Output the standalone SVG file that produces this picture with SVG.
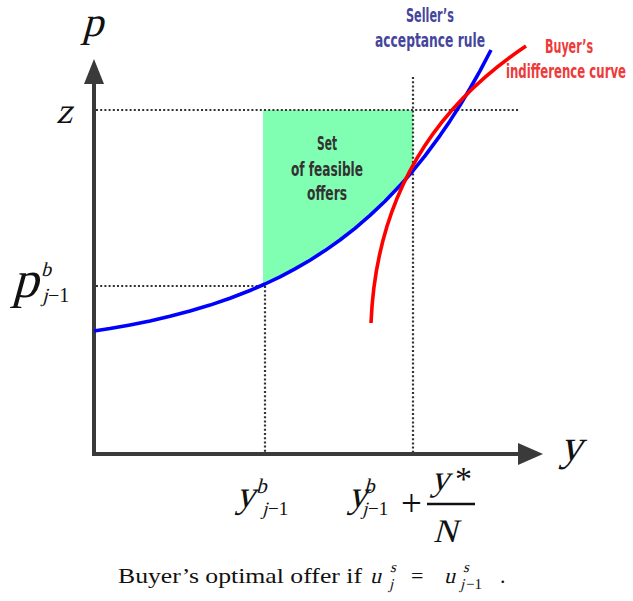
<svg xmlns="http://www.w3.org/2000/svg" width="633" height="601" viewBox="0 0 633 601">
<style>
.axis{stroke:#3a3a3a;stroke-width:4;fill:none}
.head{fill:#3a3a3a}
.dot{stroke:#333;stroke-width:2.2;stroke-dasharray:2 2.2;fill:none}
.curve{fill:none;stroke-width:3.6;stroke-linecap:butt;stroke-linejoin:round}
.note{font-family:"DejaVu Sans Condensed","DejaVu Sans",sans-serif;font-weight:bold;font-size:19px}
.m{font-family:"Liberation Serif","Times New Roman",serif;font-style:normal;fill:#111}
.r{font-family:"Liberation Serif","Times New Roman",serif;font-style:normal;fill:#111}
</style>
<rect width="633" height="601" fill="#fff"/>
<g id="feasible-region">
<path fill="#80FFB2" d="M263,110 L413,110 L413,170.7 L400,185.6 L385,201.3 L370,215.4 L355,228.3 L340,240 L325,250.6 L310,260.2 L295,268.9 L280,276.8 L265,284 L263,284.8 Z"/>
</g>
<g id="guides">
<line class="dot" x1="96" y1="110" x2="518" y2="110"/>
<line class="dot" x1="96" y1="286" x2="264" y2="286"/>
<line class="dot" x1="265" y1="286" x2="265" y2="452"/>
<line class="dot" x1="413" y1="77" x2="413" y2="452"/>
</g>
<g id="axes">
<polyline class="axis" points="94,82 94,454 520,454"/>
<polygon class="head" points="94,59 84,84 104,84"/>
<polygon class="head" points="543,454 518,443 518,465"/>
</g>
<g id="connectors">
<polyline id="seller-rule" class="curve" stroke="#0000FF" points="94,331 110,328.5 130,324.9 150,320.9 170,316.3 190,311 210,305.1 230,298.3 250,290.5 265,284 280,276.8 295,268.9 310,260.2 325,250.6 340,240 355,228.3 370,215.4 385,201.3 400,185.6 413,170.7 425,155.9 440,135.6 450,120.9 460,105.3 470,88.5 480,70.8 491,50"/>
<path id="buyer-curve" class="curve" stroke="#FF0000" d="M371,323 C376,200 430,110 526,46"/>
</g>
<g id="seller-label">
<text class="note" fill="#45459C" x="406" y="21.5" textLength="48" lengthAdjust="spacingAndGlyphs">Seller’s</text>
<text class="note" fill="#45459C" x="375" y="47" textLength="110" lengthAdjust="spacingAndGlyphs">acceptance rule</text>
</g>
<g id="buyer-label">
<text class="note" fill="#EE3A3A" x="545" y="53" textLength="48" lengthAdjust="spacingAndGlyphs">Buyer’s</text>
<text class="note" fill="#EE3A3A" transform="translate(506,78) scale(0.69,1)" textLength="174" lengthAdjust="spacingAndGlyphs">indifference curve</text>
</g>
<g id="region-label">
<text class="note" fill="#333" x="317" y="150" textLength="20" lengthAdjust="spacingAndGlyphs">Set</text>
<text class="note" fill="#333" x="291" y="176" textLength="72" lengthAdjust="spacingAndGlyphs">of feasible</text>
<text class="note" fill="#333" x="307" y="200" textLength="40" lengthAdjust="spacingAndGlyphs">offers</text>
</g>
<g id="axis-labels">
<text class="m" transform="translate(82,36) skewX(-15)" font-size="42">p</text>
<text class="m" transform="translate(56,123) skewX(-15)" font-size="36">z</text>
<text class="m" transform="translate(560,460) skewX(-15)" font-size="44">y</text>
<text class="m" transform="translate(12,297) skewX(-15)" font-size="52">p</text>
<text class="m" transform="translate(41,276) skewX(-15)" font-size="20">b</text>
<text class="m" transform="translate(42,302) skewX(-15)" font-size="20">j</text>
<text class="r" x="48" y="302" font-size="20">−1</text>
<text class="m" transform="translate(236,507) skewX(-15)" font-size="38">y</text>
<text class="m" transform="translate(256,493) skewX(-15)" font-size="21">b</text>
<text class="m" transform="translate(262,515) skewX(-15)" font-size="19">j</text>
<text class="r" x="268" y="515" font-size="19">−1</text>
<text class="m" transform="translate(348,507) skewX(-15)" font-size="38">y</text>
<text class="m" transform="translate(364,493) skewX(-15)" font-size="21">b</text>
<text class="m" transform="translate(362,515) skewX(-15)" font-size="19">j</text>
<text class="r" x="368" y="515" font-size="19">−1</text>
<text class="r" x="401" y="516" font-size="37">+</text>
<line x1="427" y1="504" x2="475" y2="504" stroke="#111" stroke-width="2.6"/>
<text class="m" transform="translate(431,490) skewX(-15)" font-size="36">y</text>
<text class="r" x="455" y="490" font-size="34">*</text>
<text class="m" transform="translate(433,542) skewX(-15)" font-size="33">N</text>
</g>
<g id="caption">
<text class="r" x="118" y="583" font-size="22" textLength="244" lengthAdjust="spacingAndGlyphs">Buyer’s optimal offer if</text>
<text class="m" transform="translate(370,583) skewX(-14)" font-size="22">u</text>
<text class="m" transform="translate(390,572) skewX(-14)" font-size="15">s</text>
<text class="m" transform="translate(389,589) skewX(-14)" font-size="15">j</text>
<text class="r" x="411" y="583" font-size="22">=</text>
<text class="m" transform="translate(444,583) skewX(-14)" font-size="22">u</text>
<text class="m" transform="translate(463,572) skewX(-14)" font-size="15">s</text>
<text class="m" transform="translate(460,589) skewX(-14)" font-size="15">j</text>
<text class="r" x="466" y="589" font-size="15">−1</text>
<text class="r" x="500" y="583" font-size="22">.</text>
</g>
</svg>
